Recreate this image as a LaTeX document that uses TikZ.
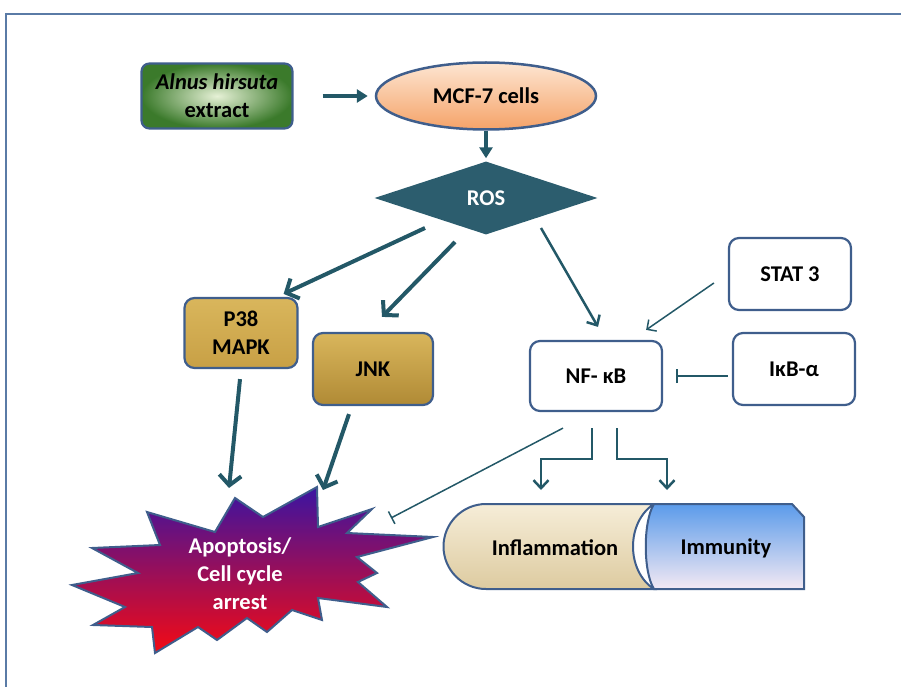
\documentclass[tikz,border=0pt]{standalone}
\usepackage{fontspec}
\setmainfont{Carlito}
\usetikzlibrary{shapes.geometric, arrows.meta}

\definecolor{framblue}{HTML}{5A7BA6}
\definecolor{edgeblue}{HTML}{3F5E8C}
\definecolor{arrowteal}{HTML}{235867}
\definecolor{rosfill}{HTML}{2C5D6E}
\definecolor{greenin}{HTML}{E6F1D6}
\definecolor{greenout}{HTML}{3B7A2B}
\definecolor{peachtop}{HTML}{FDE6D2}
\definecolor{peachbot}{HTML}{F5A268}
\definecolor{goldA}{HTML}{D9B65C}
\definecolor{goldB}{HTML}{F6E7B0}
\definecolor{goldC}{HTML}{C8A045}
\definecolor{goldD}{HTML}{B08A35}
\definecolor{bursttop}{HTML}{3A14A2}
\definecolor{burstmid}{HTML}{A1087A}
\definecolor{burstbot}{HTML}{F40A14}
\definecolor{creamtop}{HTML}{F6EDD8}
\definecolor{creambot}{HTML}{DDCBA0}
\definecolor{skytop}{HTML}{5B9BEA}
\definecolor{skybot}{HTML}{F3E9F3}

\begin{document}
\begin{tikzpicture}[x=1pt, y=-1pt, font=\fontsize{22.5}{28}\selectfont\bfseries,
	box/.style={draw=edgeblue, line width=2.2pt, rounded corners=10pt, align=center, inner sep=0pt, minimum width=122pt, minimum height=72pt},
	push/.style={arrowteal, line width=3.5pt, -{Triangle[length=11pt,width=13pt]}},
	fat/.style={arrowteal, line width=4pt, -{Straight Barb[length=10pt,width=22pt]}},
	mid/.style={arrowteal, line width=2.5pt, -{Straight Barb[length=8pt,width=15pt]}},
	slim/.style={arrowteal, line width=1.5pt, -{Straight Barb[length=7pt,width=14pt]}},
	stop/.style={arrowteal, line width=1.5pt, -{Bar[width=14pt]}}]
	\useasboundingbox (0,0) rectangle (901,687);
	\draw[framblue, line width=2pt] (6,687) -- (6,14) -- (901,14);

	% top row
	\node[box, minimum width=151pt, minimum height=65pt, rounded corners=8pt, inner color=greenin, outer color=greenout] (alnus) at (217,96) {\textit{Alnus hirsuta}\\extract};
	\node[ellipse, draw=edgeblue, line width=2.5pt, inner sep=0pt, minimum width=220pt, minimum height=67pt, top color=peachtop, bottom color=peachbot] (mcf) at (486,96) {MCF-7 cells};
	\node[diamond, fill=rosfill, text=white, inner sep=0pt, aspect=3, minimum width=223pt, minimum height=73pt] (ros) at (486,198) {ROS};

	% kinases and NF-kB
	\node[box, minimum width=113pt, minimum height=70pt, top color=goldA, middle color=goldB, bottom color=goldC] (p38) at (241,333) {P38\\MAPK};
	\node[box, minimum width=120pt, top color=goldA, middle color=goldB, bottom color=goldD] (jnk) at (373,369) {JNK};
	\node[box, minimum width=132pt, minimum height=70pt, fill=white] (nfkb) at (596,376) {NF- κB};
	\node[box, fill=white] (stat) at (790,274) {STAT 3};
	\node[box, fill=white] (ikb) at (794,369) {IκB-α};

	% apoptosis burst
	\draw[edgeblue, line width=2pt, top color=bursttop, middle color=burstmid, bottom color=burstbot] (235,498) -- (263,517) -- (317,487) -- (318,527) -- (372,509) -- (347,533) -- (433,537) -- (357,557) -- (377,573) -- (358,582) -- (387,607) -- (318,598) -- (322,620) -- (292,610) -- (267,632) -- (247,618) -- (217,640) -- (198,627) -- (155,653) -- (152,627) -- (93,625) -- (125,607) -- (72,585) -- (138,573) -- (92,548) -- (160,545) -- (147,512) -- (215,532) -- cycle;
	\node[text=white, align=center] (apop) at (240,574) {Apoptosis/\\Cell cycle\\arrest};
	\coordinate (apopP) at (229,488);
	\coordinate (apopJ) at (323,490);
	\coordinate (apopBar) at (391,518);

	% inflammation / immunity
	\draw[edgeblue, line width=2pt, top color=creamtop, bottom color=creambot] (486,504) -- (654,504) .. controls (626,522) and (626,571) .. (654,589) -- (486,589) arc[start angle=90, end angle=270, radius=42.5] -- cycle;
	\draw[edgeblue, line width=2pt, top color=skytop, bottom color=skybot] (654,504) -- (792,504) -- (804,517) -- (804,589) -- (654,589) .. controls (643,572) and (643,521) .. cycle;
	\node (infl) at (555,548) {Inflammation};
	\node (immu) at (726,548) {Immunity};
	\coordinate (inflIn) at (541,490);
	\coordinate (immuIn) at (667,490);

	% connectors
	\draw[push, shorten <=29pt, shorten >=7pt] (alnus) -- (mcf);
	\draw[push, shorten >=3pt] (mcf) -- (ros);
	\draw[fat] ([shift={(-61,30)}]ros.center) -- ([shift={(-15,-3)}]p38.north east);
	\draw[fat] ([shift={(-31,44)}]ros.center) -- ([shift={(9,-15)}]jnk.north);
	\draw[mid] ([shift={(55,30)}]ros.center) -- ([shift={(2,-13)}]nfkb.north);
	\draw[slim] ([shift={(-14,9)}]stat.west) -- ([shift={(-17,-10)}]nfkb.north east);
	\draw[stop] ([shift={(-4,7)}]ikb.west) -- ([xshift=13pt]nfkb.east);
	\draw[stop] ([shift={(-33,16)}]nfkb.south) -- (apopBar);
	\draw[mid] ([shift={(-4,16)}]nfkb.south) -- ++(0,31) -| (inflIn);
	\draw[mid] ([shift={(21,16)}]nfkb.south) -- ++(0,31) -| (immuIn);
	\draw[fat] ([shift={(-1,10)}]p38.south) -- (apopP);
	\draw[fat] ([shift={(-24,8)}]jnk.south) -- (apopJ);
\end{tikzpicture}
\end{document}
